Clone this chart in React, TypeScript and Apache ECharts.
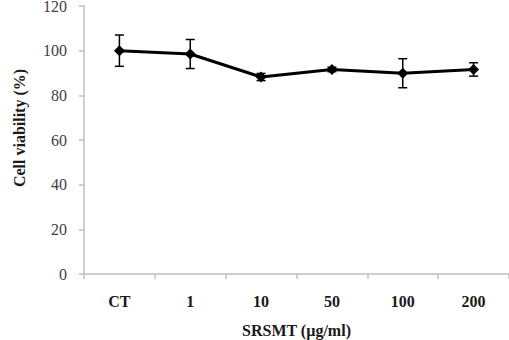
import React, { useEffect, useRef } from "react";
import * as echarts from "echarts";

const categories = ["CT", "1", "10", "50", "100", "200"];
const viability = [100, 98.5, 88.2, 91.6, 89.9, 91.6];
const errors = [7, 6.5, 1.6, 1.0, 6.5, 3.0];
const yTicks = { min: 0, max: 120, interval: 20 };

export default function App() {
  const ref = useRef<HTMLDivElement>(null);
  useEffect(() => {
    const chart = echarts.init(ref.current!, null, { renderer: "svg" });
    const errData = categories.map((_, i) => [i, viability[i] - errors[i], viability[i] + errors[i]]);
    chart.setOption({
      animation: false,
      grid: { left: 84, right: 0, top: 6, bottom: 66, outerBoundsMode: "none", containLabel: false },
      xAxis: {
        type: "category",
        data: categories,
        boundaryGap: true,
        name: "SRSMT (µg/ml)",
        nameLocation: "middle",
        nameGap: 48,
        nameTextStyle: { fontFamily: "Liberation Serif", fontWeight: "bold", fontSize: 16, color: "#1a1a1a" },
        axisLine: { lineStyle: { color: "#c0c0c0", width: 1.5 } },
        axisTick: { show: true, length: 5, inside: false, alignWithLabel: false, lineStyle: { color: "#c0c0c0", width: 1.5 } },
        axisLabel: { margin: 19, fontFamily: "Liberation Serif", fontWeight: "bold", fontSize: 16, color: "#1a1a1a" },
      },
      yAxis: {
        type: "value",
        min: yTicks.min,
        max: yTicks.max,
        interval: yTicks.interval,
        name: "Cell viability (%)",
        nameLocation: "middle",
        nameGap: 57,
        nameRotate: 90,
        nameTextStyle: { fontFamily: "Liberation Serif", fontWeight: "bold", fontSize: 16, color: "#1a1a1a", padding: [0, 0, 0, 24] },
        splitLine: { show: false },
        axisLine: { show: true, lineStyle: { color: "#c0c0c0", width: 1.5 } },
        axisTick: { show: true, length: 5, lineStyle: { color: "#c0c0c0", width: 1.5 } },
        axisLabel: { margin: 17, fontFamily: "Liberation Serif", fontSize: 16, color: "#404040" },
      },
      series: [
        {
          type: "line",
          data: viability,
          symbol: "diamond",
          symbolSize: 11,
          itemStyle: { color: "#000" },
          lineStyle: { color: "#000", width: 3 },
          z: 3,
        },
        {
          type: "custom",
          data: errData,
          z: 4,
          renderItem: (params: any, api: any) => {
            const x = api.value(0);
            const lo = api.coord([x, api.value(1)]);
            const hi = api.coord([x, api.value(2)]);
            const w = 4.5;
            const style = { stroke: "#000", lineWidth: 1.5, fill: "none" };
            return {
              type: "group",
              children: [
                { type: "line", shape: { x1: lo[0], y1: lo[1], x2: hi[0], y2: hi[1] }, style },
                { type: "line", shape: { x1: lo[0] - w, y1: lo[1], x2: lo[0] + w, y2: lo[1] }, style },
                { type: "line", shape: { x1: hi[0] - w, y1: hi[1], x2: hi[0] + w, y2: hi[1] }, style },
              ],
            };
          },
        },
      ],
    });
    return () => chart.dispose();
  }, []);
  return <div ref={ref} style={{ width: 509, height: 340, position: "absolute", left: 0, top: 0 }} />;
}
